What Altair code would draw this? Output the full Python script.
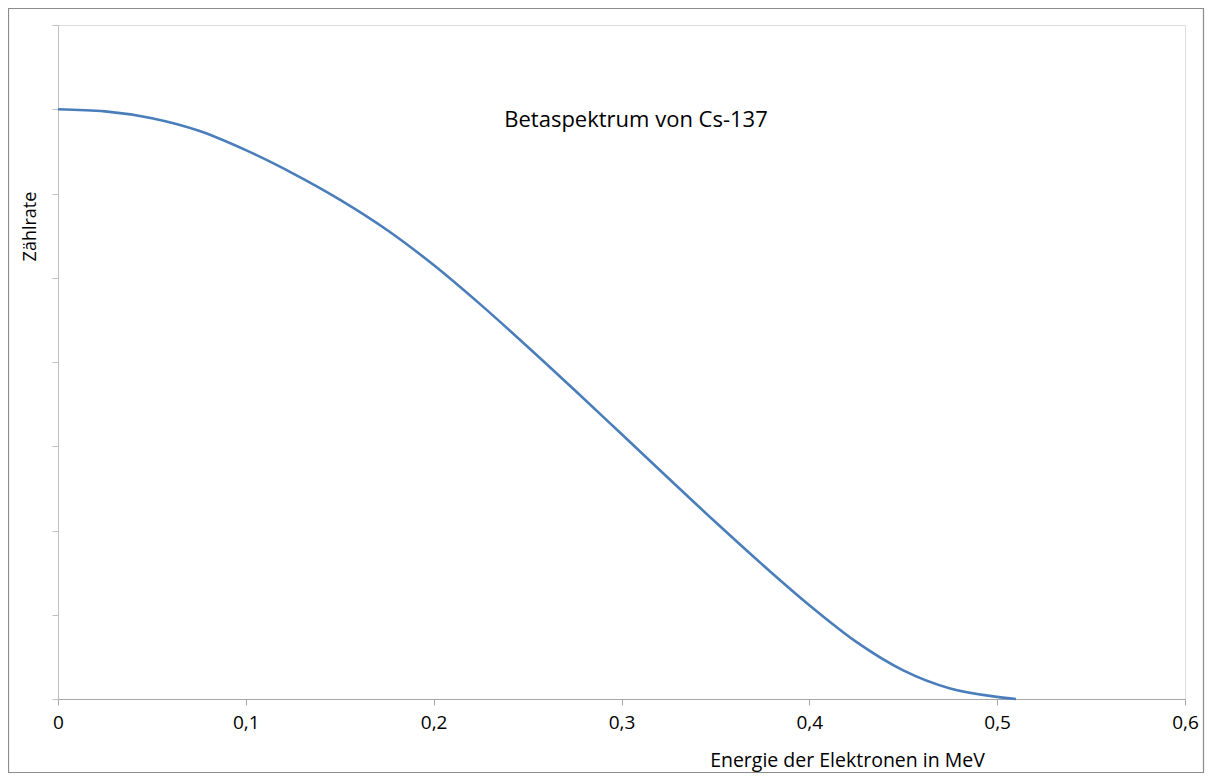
import altair as alt
import pandas as pd

energy = [0.000, 0.025, 0.050, 0.075, 0.100, 0.125, 0.150, 0.175, 0.200, 0.225,
          0.250, 0.275, 0.300, 0.325, 0.350, 0.375, 0.400, 0.425, 0.450, 0.475,
          0.500, 0.510]
rate = [7.000, 6.975, 6.894, 6.745, 6.515, 6.240, 5.928, 5.570, 5.151, 4.681,
        4.182, 3.668, 3.145, 2.620, 2.100, 1.595, 1.113, 0.678, 0.340, 0.125,
        0.025, 0.000]
x_ticks = [0, 0.1, 0.2, 0.3, 0.4, 0.5, 0.6]
y_ticks = [0, 1, 2, 3, 4, 5, 6, 7, 8]
title_text = "Betaspektrum von Cs-137"
x_title = "Energie der Elektronen in MeV"
y_title = "Zählrate"

df = pd.DataFrame({"E": energy, "R": rate})

W, H = 1127, 674
FONT = "Open Sans"

x_enc = alt.X(
    "E:Q",
    scale=alt.Scale(domain=[0, 0.6], nice=False, zero=True),
    axis=alt.Axis(
        values=x_ticks,
        grid=False,
        domainColor="#A6A6A6",
        tickColor="#A6A6A6",
        tickSize=6,
        labelPadding=8,
        labelFontSize=19,
        labelFont=FONT,
        labelColor="#000000",
        labelExpr="replace(format(datum.value, '.1~f'), '.', ',')",
        labelFlush=False,
        title=x_title,
        titleFont=FONT,
        titleFontSize=19.5,
        titleFontWeight="normal",
        titleColor="#000000",
        titleX=789,
        titleY=61,
        titleAlign="center",
        titleBaseline="middle",
    ),
)
y_enc = alt.Y(
    "R:Q",
    scale=alt.Scale(domain=[0, 8], nice=False),
    axis=alt.Axis(
        values=y_ticks,
        grid=False,
        labels=False,
        domainColor="#BFBFBF",
        tickColor="#BFBFBF",
        tickSize=6,
        title=y_title,
        titleFont=FONT,
        titleFontSize=18,
        titleFontWeight="normal",
        titleColor="#000000",
        titleAngle=270,
        titleX=-28,
        titleY=201,
        titleAlign="center",
        titleBaseline="middle",
    ),
)

line = alt.Chart(df).mark_line(
    color="#4A7EBB", strokeWidth=2.6, interpolate="monotone"
).encode(x=x_enc, y=y_enc)

box_df = pd.DataFrame({"k": [0]})
border = alt.Chart(box_df).mark_rect(
    fill=None, stroke="#8C8C8C", strokeWidth=1.2
).encode(
    x=alt.value(-49.5), x2=alt.value(W + 18.5),
    y=alt.value(-16.5), y2=alt.value(H + 73.5),
)

title = alt.Chart(pd.DataFrame({"t": [title_text]})).mark_text(
    font=FONT, fontSize=22, color="#000000", align="center", baseline="middle"
).encode(text="t:N", x=alt.value(578), y=alt.value(95))

chart = alt.layer(border, line, title).properties(
    width=W, height=H,
    padding={"left": 50, "top": 17, "right": 20, "bottom": 74},
    autosize=alt.AutoSizeParams(type="none"),
).configure_view(stroke=None).configure(background="white")

chart.save("out.html", embed_options={"renderer": "svg", "actions": False})
